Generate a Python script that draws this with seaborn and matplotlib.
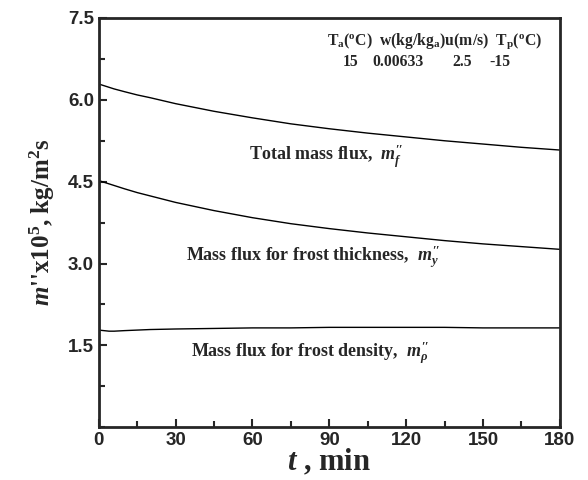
import matplotlib
matplotlib.use("Agg")
import matplotlib.pyplot as plt
import seaborn as sns
import pandas as pd
from matplotlib.ticker import MultipleLocator

t_min = [0, 2, 4, 6, 10, 15, 20, 30, 45, 60, 75, 90, 105, 120, 135, 150, 165, 180]
total_flux = [6.29, 6.26, 6.23, 6.20, 6.15, 6.09, 6.04, 5.93, 5.79, 5.67, 5.56, 5.47, 5.39, 5.32, 5.25, 5.19, 5.13, 5.08]
thick_flux = [4.52, 4.49, 4.46, 4.43, 4.37, 4.30, 4.24, 4.12, 3.97, 3.84, 3.73, 3.64, 3.56, 3.49, 3.42, 3.36, 3.31, 3.26]
dens_flux = [1.78, 1.77, 1.76, 1.76, 1.77, 1.78, 1.79, 1.80, 1.81, 1.82, 1.82, 1.83, 1.83, 1.83, 1.83, 1.82, 1.82, 1.82]

header_labels = [r"T$_\mathrm{a}$($^\mathrm{o}$C)  w(kg/kg$_\mathrm{a}$)u(m/s)  T$_\mathrm{p}$($^\mathrm{o}$C)"]
header_values = ["15", "0.00633", "2.5", "-15"]

sns.set_style("ticks")
plt.rcParams['font.family'] = ['Liberation Sans', 'DejaVu Sans']
plt.rcParams['mathtext.fontset'] = 'custom'
plt.rcParams['mathtext.rm'] = 'Liberation Serif:bold'
plt.rcParams['mathtext.it'] = 'Liberation Serif:italic:bold'
plt.rcParams['mathtext.bf'] = 'Liberation Serif:bold'

df = pd.DataFrame({
    "t": t_min * 3,
    "flux": total_flux + thick_flux + dens_flux,
    "series": ["total"] * len(t_min) + ["thick"] * len(t_min) + ["dens"] * len(t_min),
})

fig = plt.figure(figsize=(5.88, 4.8), dpi=100)
ax = fig.add_axes([0.168, 0.110, 0.784, 0.8525])
sns.lineplot(data=df, x="t", y="flux", units="series", estimator=None,
             color="black", lw=1.0, ax=ax, legend=False)

ax.set_xlim(0, 180)
ax.set_ylim(0, 7.5)
ax.xaxis.set_major_locator(MultipleLocator(30))
ax.xaxis.set_minor_locator(MultipleLocator(15))
ax.set_yticks([1.5, 3.0, 4.5, 6.0, 7.5])
ax.yaxis.set_minor_locator(MultipleLocator(0.75))
ax.tick_params(which="both", direction="in", width=1.5, top=False, right=False)
ax.tick_params(which="major", length=6)
ax.tick_params(which="minor", length=4)
for lab in ax.get_xticklabels() + ax.get_yticklabels():
    lab.set_fontweight("bold")
    lab.set_fontsize(13.5)
for s in ax.spines.values():
    s.set_linewidth(2)
    s.set_visible(True)

ax.set_xlabel(r"$t$ , min", labelpad=-1, family="Liberation Serif", fontweight="bold", fontsize=22)
ax.set_ylabel(r"$m$''x10$^5$, kg/m$^2$s", labelpad=8, family="Liberation Serif",
              fontweight="bold", fontsize=18)

tfont = dict(family="Liberation Serif", fontweight="bold", fontsize=13)
ax.text(0.326, 0.652, r"Total mass flux,  $m_f^{\prime\prime}$", transform=ax.transAxes, **tfont)
ax.text(0.19, 0.405, r"Mass flux for frost thickness,  $m_y^{\prime\prime}$", transform=ax.transAxes, **tfont)
ax.text(0.20, 0.17, r"Mass flux for frost density,  $m_\rho^{\prime\prime}$", transform=ax.transAxes, **tfont)

hfont = dict(family="Liberation Serif", fontweight="bold", fontsize=11.3)
ax.text(0.495, 0.935, header_labels[0], transform=ax.transAxes, **hfont)
for xpos, val in zip([0.529, 0.594, 0.766, 0.848], header_values):
    ax.text(xpos, 0.883, val, transform=ax.transAxes, **hfont)

fig.savefig("out.png", dpi=100)
